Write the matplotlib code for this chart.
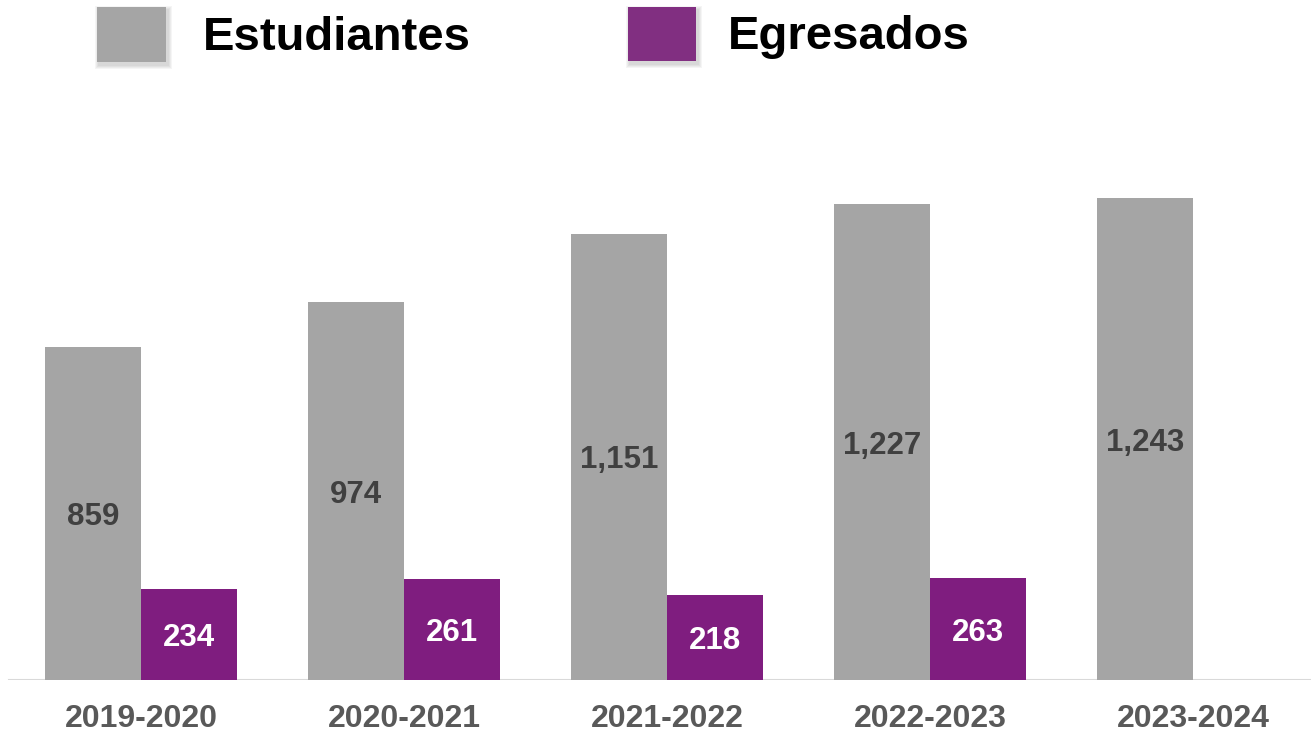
import matplotlib
matplotlib.use("Agg")
import matplotlib.pyplot as plt
from matplotlib.patches import Rectangle
import numpy as np

plt.rcParams['font.family'] = ['Liberation Sans', 'DejaVu Sans']

# --- data ---
periodos = ["2019-2020", "2020-2021", "2021-2022", "2022-2023", "2023-2024"]
estudiantes = [859, 974, 1151, 1227, 1243]
egresados = [234, 261, 218, 263, None]

GRIS = "#a5a5a5"
MORADO = "#7f1d7f"

W, H = 1311, 733
fig = plt.figure(figsize=(W / 100, H / 100), dpi=100)

# axes placed in pixels: baseline at y=680, top at y=80
ax = fig.add_axes([0, (H - 680) / H, 1, 600 / H])
x = np.arange(len(periodos))
bw = 96 / 263

bars_e = ax.bar(x - bw / 2, estudiantes, width=bw, color=GRIS)
eg_x = [xi + bw / 2 for xi, v in zip(x, egresados) if v is not None]
eg_v = [v for v in egresados if v is not None]
bars_g = ax.bar(eg_x, eg_v, width=bw, color=MORADO)

for b, v in zip(bars_e, estudiantes):
    ax.text(b.get_x() + b.get_width() / 2, v / 2, f"{v:,}", ha="center", va="center_baseline",
            fontsize=22.5, fontweight="bold", color="#404040")
for b, v in zip(bars_g, eg_v):
    ax.text(b.get_x() + b.get_width() / 2, v / 2, f"{v:,}", ha="center", va="center_baseline",
            fontsize=22.5, fontweight="bold", color="white")

ax.set_xlim(-141 / 263, (W - 141) / 263)
ax.set_ylim(0, 600 / 0.3877)
for s in ax.spines.values():
    s.set_visible(False)
ax.axhline(0, xmin=9 / W, xmax=1, color="#d9d9d9", lw=1.5, zorder=0)
ax.set_yticks([])
ax.set_xticks(x)
ax.set_xticklabels(periodos, fontsize=23, fontweight="bold", color="#595959")
ax.tick_params(axis="x", length=0, pad=17)

# --- legend at top, drawn in figure pixels ---
def legend_item(x0, x1, y0, y1, color, label, tx):
    # soft shadow: a few stacked translucent rectangles
    for g in (4, 3, 2, 1):
        sh = Rectangle(((x0 + 2 - g) / W, 1 - (y1 + 3 + g) / H), (x1 - x0 + 2 * g) / W,
                       (y1 - y0 + 2 * g) / H, transform=fig.transFigure,
                       color="#000000", alpha=0.04, lw=0)
        fig.patches.append(sh)
    r = Rectangle((x0 / W, 1 - y1 / H), (x1 - x0) / W, (y1 - y0) / H,
                  transform=fig.transFigure, color=color, lw=0)
    fig.patches.append(r)
    fig.text(tx / W, 1 - ((y0 + y1) / 2 + 3) / H, label, ha="left", va="center",
             fontsize=34, fontweight="bold", color="black")

legend_item(97, 166, 7, 62, GRIS, "Estudiantes", 203)
legend_item(628, 696, 7, 61, "#812f81", "Egresados", 728)

fig.savefig("out.png", dpi=100)
